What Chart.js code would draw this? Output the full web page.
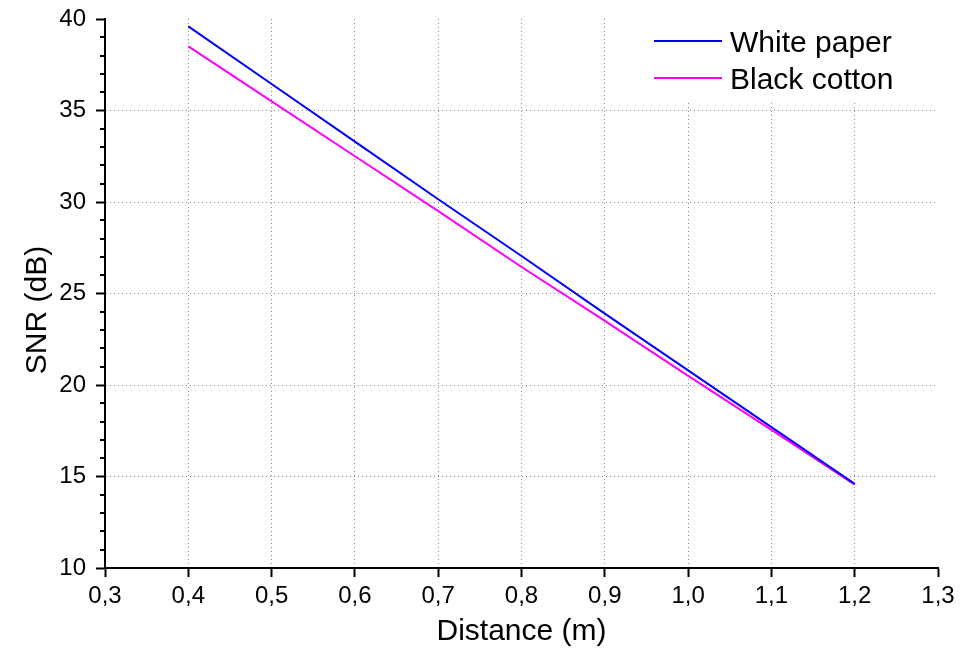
<!DOCTYPE html>
<html>
<head>
<meta charset="utf-8">
<script src="https://cdn.jsdelivr.net/npm/chart.js@4/dist/chart.umd.min.js"></script>
<style>
  html, body { margin: 0; padding: 0; background: #fff; }
  #wrap { width: 962px; height: 648px; }
</style>
</head>
<body>
<div id="wrap"><canvas id="grafico"></canvas></div>
<script>
'use strict';

// dados
const distancias = [0.4, 0.5, 0.6, 0.7, 0.8, 0.9, 1.0, 1.1, 1.2];
const whitePaper = [39.6, 36.45, 33.3, 30.15, 27.05, 23.9, 20.8, 17.7, 14.6];
const blackCotton = [38.5, 35.5, 32.5, 29.5, 26.45, 23.5, 20.5, 17.55, 14.55];
const seriesNames = ['White paper', 'Black cotton'];
const seriesColors = ['#0000ff', '#ff00ff'];
const xTicks = [0.3, 0.4, 0.5, 0.6, 0.7, 0.8, 0.9, 1.0, 1.1, 1.2, 1.3];
const yTicks = [10, 15, 20, 25, 30, 35, 40];
const yTitulo = 'SNR (dB)';

const fonte = 'Arial, "Liberation Sans", sans-serif';

const pontos = (ys) => distancias.map((x, i) => ({x: x, y: ys[i]}));

// ticks menores do eixo y, titulo do eixo y e legenda dentro do grafico
const extras = {
    id: 'extras',
    afterDraw(chart) {
        const c = chart.ctx;
        const area = chart.chartArea;
        const y = chart.scales.y;

        c.save();
        c.strokeStyle = '#000';
        c.lineWidth = 2;
        for (let v = yTicks[0]; v <= yTicks[yTicks.length - 1]; v++) {
            if (v % 5 === 0) continue;
            const py = Math.round(y.getPixelForValue(v));
            c.beginPath();
            c.moveTo(area.left - 5, py);
            c.lineTo(area.left, py);
            c.stroke();
        }

        // titulo do eixo y
        c.save();
        c.translate(46, 310);
        c.rotate(-Math.PI / 2);
        c.font = '30px ' + fonte;
        c.textAlign = 'center';
        c.textBaseline = 'alphabetic';
        c.fillStyle = '#000';
        c.fillText(yTitulo, 0, 0);
        c.restore();

        // caixa branca da legenda
        c.fillStyle = '#fff';
        c.fillRect(645, area.top, area.right - 645, 81);

        c.font = '30px ' + fonte;
        c.textBaseline = 'alphabetic';
        c.fillStyle = '#000';
        chart.data.datasets.forEach((ds, i) => {
            const ly = 41 + i * 37;
            c.strokeStyle = ds.borderColor;
            c.lineWidth = 2;
            c.beginPath();
            c.moveTo(654, ly);
            c.lineTo(722, ly);
            c.stroke();
            c.fillText(ds.label, 730, ly + 11);
        });
        c.restore();
    }
};

const ctx = document.getElementById('grafico').getContext('2d');
const grafico = new Chart(ctx, {
    type: 'line',
    plugins: [extras],
    data: {
        datasets: [
            {
                label: seriesNames[0],
                data: pontos(whitePaper),
                borderColor: seriesColors[0],
                borderWidth: 2,
                pointRadius: 0,
                tension: 0,
                fill: false
            },
            {
                label: seriesNames[1],
                data: pontos(blackCotton),
                borderColor: seriesColors[1],
                borderWidth: 2,
                pointRadius: 0,
                tension: 0,
                fill: false
            }
        ]
    },
    options: {
        responsive: true,
        maintainAspectRatio: false,
        animation: false,
        layout: {
            padding: {top: 19, right: 24, left: 0, bottom: 0}
        },
        plugins: {
            legend: {display: false},
            tooltip: {enabled: false}
        },
        scales: {
            x: {
                type: 'linear',
                min: xTicks[0],
                max: xTicks[xTicks.length - 1],
                afterBuildTicks: (scale) => { scale.ticks = xTicks.map(v => ({value: v})); },
                afterFit: (scale) => { scale.height = 80; },
                ticks: {
                    color: '#000',
                    padding: 5,
                    maxRotation: 0,
                    font: {family: fonte, size: 24},
                    callback: (v) => Number(v).toFixed(1).replace('.', ',')
                },
                grid: {
                    color: (c) => (c.tick && (Math.abs(c.tick.value - 0.3) < 1e-6 || Math.abs(c.tick.value - 1.3) < 1e-6)) ? 'rgba(0,0,0,0)' : '#8c8c8c',
                    lineWidth: 1,
                    drawTicks: true,
                    tickLength: 9,
                    tickColor: '#000',
                    tickWidth: 2,
                    tickBorderDash: []
                },
                border: {display: true, color: '#000', width: 2, dash: [1, 3]},
                title: {
                    display: true,
                    text: 'Distance (m)',
                    color: '#000',
                    font: {family: fonte, size: 30, lineHeight: 1.1},
                    padding: {top: 2, bottom: 0}
                }
            },
            y: {
                type: 'linear',
                min: yTicks[0],
                max: yTicks[yTicks.length - 1],
                afterBuildTicks: (scale) => { scale.ticks = yTicks.map(v => ({value: v})); },
                afterFit: (scale) => {
                    scale.width = 105;
                    scale.paddingTop = 0;
                    scale.paddingBottom = 0;
                },
                ticks: {
                    color: '#000',
                    padding: 10,
                    font: {family: fonte, size: 24}
                },
                grid: {
                    color: (c) => (c.tick && (c.tick.value === 10 || c.tick.value === 40)) ? 'rgba(0,0,0,0)' : '#8c8c8c',
                    lineWidth: 1,
                    drawTicks: true,
                    tickLength: 9,
                    tickColor: '#000',
                    tickWidth: 2,
                    tickBorderDash: []
                },
                border: {display: true, color: '#000', width: 2, dash: [1, 3]},
                title: {display: false}
            }
        }
    }
});
</script>
</body>
</html>
